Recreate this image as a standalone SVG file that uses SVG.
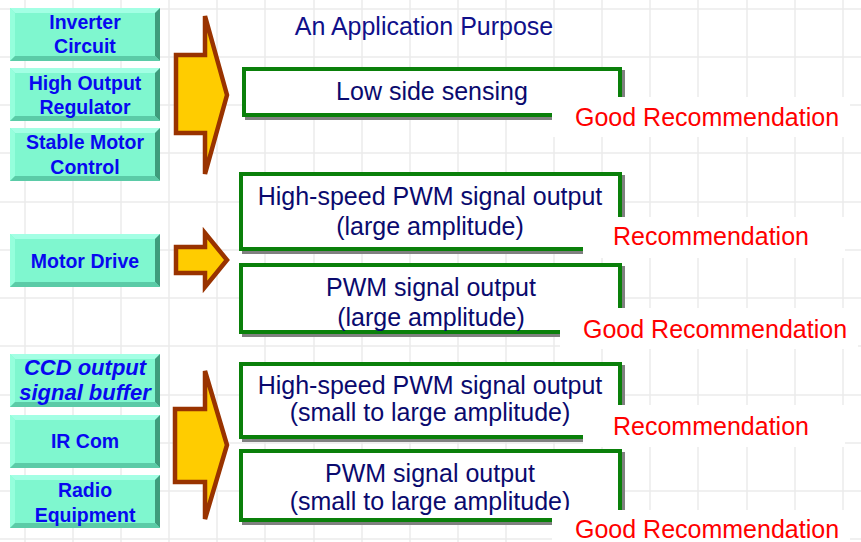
<svg xmlns="http://www.w3.org/2000/svg" xmlns:xlink="http://www.w3.org/1999/xlink" width="861" height="542" viewBox="0 0 861 542">
<defs>
<style>
.grid{stroke:#ebebeb;stroke-width:1.5;fill:none}
.tt{font-family:"Liberation Sans",Arial,sans-serif;font-weight:bold;font-size:19.5px;fill:#0808f0;text-anchor:middle}
.ti{font-style:italic;font-size:22px}
.bt{font-family:"Liberation Sans",Arial,sans-serif;font-size:25px;fill:#0a0a6e;text-anchor:middle}
.rt{font-family:"Liberation Sans",Arial,sans-serif;font-size:25px;fill:#ff0000}
.arrow{fill:#ffcc00;stroke:#993300;stroke-width:4.5;stroke-linejoin:miter}
.gbox{fill:#ffffff;stroke:#0a800a;stroke-width:4}
.gsh{fill:none;stroke:#808080;stroke-width:4}
.wbg{fill:#ffffff}
</style>
<symbol id="teal" viewBox="0 0 150 53" width="150" height="53">
<rect x="0" y="0" width="150" height="53" fill="#7ff7cf"/>
<polygon points="0,0 150,0 145,5 5,5" fill="#a3ffe4"/>
<polygon points="0,0 5,5 5,48 0,53" fill="#95ffdc"/>
<polygon points="150,0 150,53 145,48 145,5" fill="#3f9c7c"/>
<polygon points="0,53 150,53 145,48 5,48" fill="#5bcba7"/>
</symbol>
</defs>
<rect width="861" height="542" fill="#ffffff"/>
<path class="grid" d="M25 0V542M73 0V542M121 0V542M169 0V542M217 0V542M265 0V542M314 0V542M362 0V542M410 0V542M458 0V542M506 0V542M554 0V542M602 0V542M650 0V542M698 0V542M747 0V542M795 0V542M843 0V542M0 9H861M0 57H861M0 105H861M0 153H861M0 202H861M0 250H861M0 298H861M0 346H861M0 395H861M0 443H861M0 491H861M0 539H861"/>

<text class="bt" x="424" y="35" style="fill:#10108a">An Application Purpose</text>

<g id="n-inverter" transform="translate(10,8)">
<use href="#teal"/>
<text class="tt" x="75" y="21">Inverter</text>
<text class="tt" x="75" y="45">Circuit</text>
</g>
<g id="n-highoutput" transform="translate(10,68)">
<use href="#teal"/>
<text class="tt" x="75" y="22">High Output</text>
<text class="tt" x="75" y="46">Regulator</text>
</g>
<g id="n-stablemotor" transform="translate(10,128)">
<use href="#teal"/>
<text class="tt" x="75" y="21">Stable Motor</text>
<text class="tt" x="75" y="46">Control</text>
</g>
<g id="n-motordrive" transform="translate(10,234)">
<use href="#teal"/>
<text class="tt" x="75" y="34">Motor Drive</text>
</g>
<g id="n-ccd" transform="translate(10,354)">
<use href="#teal"/>
<text class="tt ti" x="75" y="21">CCD output</text>
<text class="tt ti" x="75" y="46">signal buffer</text>
</g>
<g id="n-ircom" transform="translate(10,415)">
<use href="#teal"/>
<text class="tt" x="75" y="33">IR Com</text>
</g>
<g id="n-radio" transform="translate(10,475)">
<use href="#teal"/>
<text class="tt" x="75" y="22">Radio</text>
<text class="tt" x="75" y="47">Equipment</text>
</g>

<g id="connectors">
<polygon class="arrow" points="176,55 205,55 205,16 227,95 205,174 205,133 176,133"/>
<polygon class="arrow" points="176,247 205,247 205,233 227,260 205,287 205,273 176,273"/>
<polygon class="arrow" points="175,409 205,409 205,371 227,445 205,519 205,482 175,482"/>
</g>

<g id="n-lowside">
<rect class="gsh" x="247" y="72" width="376" height="46"/>
<rect class="gbox" x="244" y="69" width="376" height="46"/>
<text class="bt" x="432" y="100">Low side sensing</text>
</g>
<g id="n-hspwm-large">
<rect class="gsh" x="244" y="177" width="379" height="75"/>
<rect class="gbox" x="241" y="174" width="379" height="75"/>
<text class="bt" x="430" y="205">High-speed PWM signal output</text>
<text class="bt" x="430" y="235">(large amplitude)</text>
</g>
<g id="n-pwm-large">
<rect class="gsh" x="244" y="268" width="379" height="67"/>
<rect class="gbox" x="241" y="265" width="379" height="67"/>
<text class="bt" x="431" y="296">PWM signal output</text>
<text class="bt" x="431" y="326">(large amplitude)</text>
</g>
<g id="n-hspwm-small">
<rect class="gsh" x="244" y="367" width="379" height="73"/>
<rect class="gbox" x="241" y="364" width="379" height="73"/>
<text class="bt" x="430" y="394">High-speed PWM signal output</text>
<text class="bt" x="430" y="421">(small to large amplitude)</text>
</g>
<g id="n-pwm-small">
<rect class="gsh" x="244" y="454" width="379" height="69"/>
<rect class="gbox" x="241" y="451" width="379" height="69"/>
<text class="bt" x="430" y="482">PWM signal output</text>
<text class="bt" x="430" y="510">(small to large amplitude)</text>
</g>

<g id="n-rec1">
<rect class="wbg" x="552" y="97" width="298" height="40"/>
<text class="rt" x="575" y="126">Good Recommendation</text>
</g>
<g id="n-rec2">
<rect class="wbg" x="583" y="217" width="262" height="41"/>
<text class="rt" x="613" y="245">Recommendation</text>
</g>
<g id="n-rec3">
<rect class="wbg" x="560" y="308" width="298" height="41"/>
<text class="rt" x="583" y="338">Good Recommendation</text>
</g>
<g id="n-rec4">
<rect class="wbg" x="583" y="405" width="262" height="42"/>
<text class="rt" x="613" y="435">Recommendation</text>
</g>
<g id="n-rec5">
<rect class="wbg" x="552" y="510" width="298" height="32"/>
<text class="rt" x="575" y="538">Good Recommendation</text>
</g>
</svg>
